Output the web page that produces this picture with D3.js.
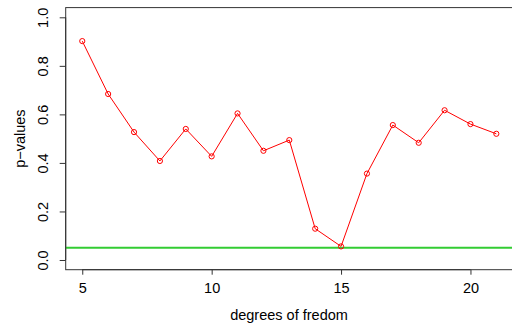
<!DOCTYPE html>
<html>
<head>
<meta charset="utf-8">
<script src="https://cdn.jsdelivr.net/npm/d3@7"></script>
<style>
  html, body { margin: 0; padding: 0; background: #fff; }
  svg { display: block; font-family: "Liberation Sans", Arial, sans-serif; }
</style>
</head>
<body>
<svg id="chart" width="512" height="329"></svg>
<script>
// Degrees of freedom and the p-value obtained at each
const degrees = [5, 6, 7, 8, 9, 10, 11, 12, 13, 14, 15, 16, 17, 18, 19, 20, 21];
const pValues = [0.902, 0.684, 0.527, 0.408, 0.540, 0.427, 0.604, 0.450, 0.494, 0.129, 0.056, 0.356, 0.556, 0.483, 0.617, 0.560, 0.520];
const threshold = 0.05;
const xTicks = [5, 10, 15, 20];
const yTicks = [0, 0.2, 0.4, 0.6, 0.8, 1.0];

const svg = d3.select("#chart");
const fontSize = 14.5;

// R-style 4% padding on both axes
const x = d3.scaleLinear().domain([4.36, 21.64]).range([65.7, 512.9]);
const y = d3.scaleLinear().domain([-0.04, 1.04]).range([269.7, 7.6]);

// Plot frame
svg.append("rect")
  .attr("x", x(4.36)).attr("y", y(1.04))
  .attr("width", x(21.64) - x(4.36)).attr("height", y(-0.04) - y(1.04))
  .attr("fill", "none").attr("stroke", "#333").attr("stroke-width", 1);

// Reference line at the significance level
svg.append("line")
  .attr("x1", x(4.36)).attr("x2", x(21.64))
  .attr("y1", y(threshold)).attr("y2", y(threshold))
  .attr("stroke", "#33cc33").attr("stroke-width", 2);

// X axis
const xAxis = svg.append("g").attr("transform", `translate(0,${y(-0.04)})`)
  .call(d3.axisBottom(x).tickValues(xTicks).tickSize(5).tickPadding(8).tickFormat(d3.format("d")));
xAxis.select(".domain").attr("d", `M${x(5)},0H${x(20)}`).attr("stroke", "#333");
xAxis.selectAll(".tick line").attr("stroke", "#333");
xAxis.selectAll("text").attr("font-size", fontSize).attr("fill", "#000").attr("font-family", null);

// Y axis (labels rotated like base R)
const yAxis = svg.append("g").attr("transform", `translate(${x(4.36)},0)`)
  .call(d3.axisLeft(y).tickValues(yTicks).tickSize(6).tickFormat(d3.format(".1f")));
yAxis.select(".domain").attr("d", `M0,${y(0)}V${y(1)}`).attr("stroke", "#333");
yAxis.selectAll(".tick line").attr("stroke", "#333");
yAxis.selectAll("text")
  .attr("font-size", fontSize).attr("fill", "#000").attr("font-family", null)
  .attr("x", null).attr("dy", null)
  .attr("text-anchor", "middle")
  .attr("transform", "translate(-23,0) rotate(-90)")
  .attr("dominant-baseline", "central");

// Axis titles
svg.append("text")
  .attr("x", 289).attr("y", 320)
  .attr("text-anchor", "middle").attr("font-size", fontSize)
  .text("degrees of fredom");
svg.append("text")
  .attr("transform", `translate(25,${y(0.5)}) rotate(-90)`)
  .attr("text-anchor", "middle").attr("font-size", fontSize)
  .text("p\u2212values");

// Series line and open circle markers
const line = d3.line().x((d, i) => x(degrees[i])).y(d => y(d));
svg.append("path").datum(pValues)
  .attr("d", line).attr("fill", "none")
  .attr("stroke", "#ff0000").attr("stroke-width", 1);
svg.selectAll("circle.pt").data(pValues).join("circle")
  .attr("class", "pt")
  .attr("cx", (d, i) => x(degrees[i])).attr("cy", d => y(d))
  .attr("r", 2.6).attr("fill", "none")
  .attr("stroke", "#ff0000").attr("stroke-width", 1);
</script>
</body>
</html>
